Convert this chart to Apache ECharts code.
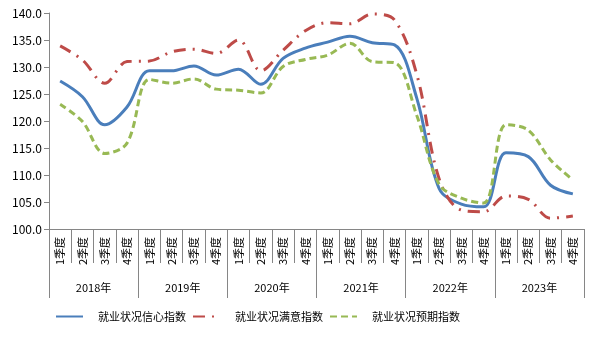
<!DOCTYPE html>
<html><head><meta charset="utf-8">
<script src="https://cdn.jsdelivr.net/npm/echarts@6/dist/echarts.min.js"></script>
<style>html,body{margin:0;padding:0;background:#fff}#c{width:590px;height:337px}</style>
</head><body><div id="c"></div>
<script>
var quarters = ['1季度','2季度','3季度','4季度','1季度','2季度','3季度','4季度','1季度','2季度','3季度','4季度','1季度','2季度','3季度','4季度','1季度','2季度','3季度','4季度','1季度','2季度','3季度','4季度'];
var years = ['2018年','2019年','2020年','2021年','2022年','2023年'];
var yTicks = [100, 140, 5];
var confidence = [127.4,124.5,119.3,122.6,129.3,129.3,130.2,128.5,129.6,126.8,131.6,133.5,134.6,135.7,134.5,134.1,124.2,107.5,104.6,104.1,114.1,113.4,108.1,106.5];
var satisfaction = [133.9,131.3,127.0,131.0,131.1,132.8,133.3,132.5,135.0,129.3,133.1,136.7,138.2,138.0,139.8,138.7,128.6,109.3,103.5,103.2,106.1,105.5,102.0,102.4];
var expectation = [123.1,119.9,114.0,115.9,127.7,127.0,127.8,125.9,125.7,125.2,130.1,131.4,132.2,134.4,131.0,130.8,121.0,108.3,105.7,104.8,119.3,118.3,112.8,109.1];
var names = ['就业状况信心指数','就业状况满意指数','就业状况预期指数'];

var axisGray = '#868686';
var font = '"Noto Sans CJK SC", "DejaVu Sans", sans-serif';
var chart = echarts.init(document.getElementById('c'));
chart.setOption({
  animation: false,
  textStyle: {fontFamily: font, color: '#000'},
  grid: {left: 49, right: 6, top: 13, bottom: 108, containLabel: false},
  legend: {
    left: 50, top: 306, itemGap: 6, itemWidth: 27, itemHeight: 10,
    itemStyle: {opacity: 0},
    textStyle: {fontSize: 11, color: '#000', padding: [0, 0, 0, 10], fontFamily: font},
    data: names
  },
  xAxis: [{
    type: 'category', data: quarters, boundaryGap: true,
    axisLine: {lineStyle: {color: axisGray, width: 1}},
    axisTick: {show: true, length: 34, interval: 0, lineStyle: {color: axisGray}},
    axisLabel: {rotate: 90, interval: 0, fontSize: 11, margin: 8, color: '#000'}
  }, {
    type: 'category', data: years, boundaryGap: true, position: 'bottom', offset: 34,
    axisLine: {show: false},
    axisTick: {show: true, length: 35, interval: 0, lineStyle: {color: axisGray}},
    axisLabel: {interval: 0, fontSize: 11, margin: 19, color: '#000'}
  }],
  yAxis: {
    type: 'value', min: yTicks[0], max: yTicks[1], interval: yTicks[2],
    axisLine: {show: true, lineStyle: {color: axisGray}},
    axisTick: {show: true, length: 5, lineStyle: {color: axisGray}},
    splitLine: {show: false},
    axisLabel: {fontSize: 12, margin: 7, color: '#000', formatter: function(v){return v.toFixed(1);}}
  },
  series: [{
    name: names[0], type: 'line', data: confidence, smooth: 0.35, symbol: 'none',
    lineStyle: {color: '#4A7EBB', width: 3}, itemStyle: {color: '#4A7EBB'}
  }, {
    name: names[1], type: 'line', data: satisfaction, smooth: 0.35, symbol: 'none',
    lineStyle: {color: '#BE4B48', width: 3, type: [12, 7, 2, 7]}, itemStyle: {color: '#BE4B48'}
  }, {
    name: names[2], type: 'line', data: expectation, smooth: 0.35, symbol: 'none',
    lineStyle: {color: '#98B954', width: 3, type: [7, 4]}, itemStyle: {color: '#98B954'}
  }]
});
</script></body></html>
